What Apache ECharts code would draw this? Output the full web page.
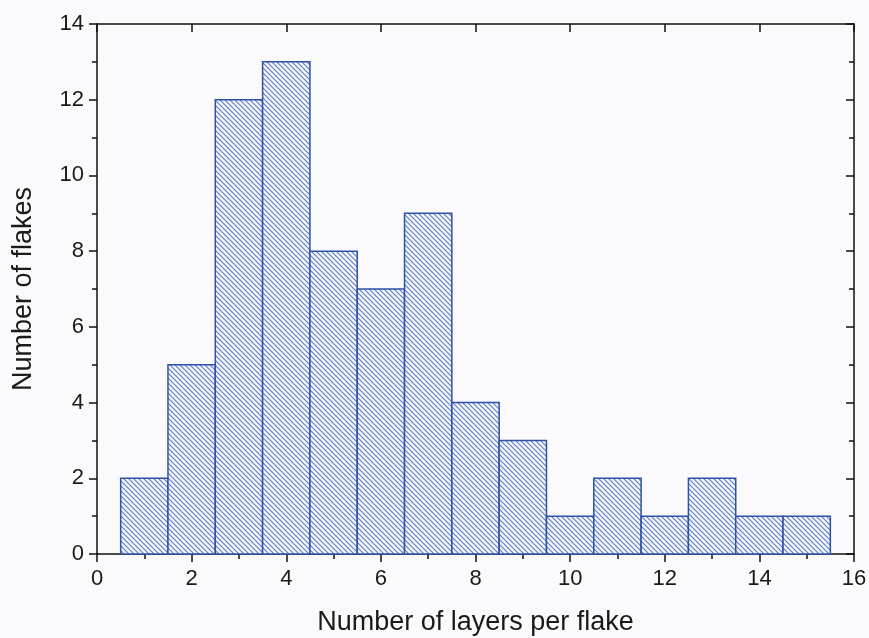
<!DOCTYPE html>
<html><head><meta charset="utf-8">
<script src="https://cdn.jsdelivr.net/npm/echarts@6/dist/echarts.min.js"></script>
<style>html,body{margin:0;padding:0;background:#fafafc}#c{width:869px;height:638px}</style>
</head><body><div id="c"></div>
<script>
const layers = [1,2,3,4,5,6,7,8,9,10,11,12,13,14,15];
const counts = [2,5,12,13,8,7,9,4,3,1,2,1,2,1,1];
const xTicks = [0,2,4,6,8,10,12,14,16];
const yTicks = [0,2,4,6,8,10,12,14];

function hatch(){
  const s = 5, cv = document.createElement('canvas');
  cv.width = s; cv.height = s;
  const g = cv.getContext('2d');
  g.fillStyle = '#f4f6fd'; g.fillRect(0,0,s,s);
  g.strokeStyle = '#5f7bc4'; g.lineWidth = 1.1;
  g.beginPath();
  g.moveTo(-1,-1); g.lineTo(s+1,s+1);
  g.moveTo(-1,s-1); g.lineTo(1,s+1);
  g.moveTo(s-1,-1); g.lineTo(s+1,1);
  g.stroke();
  return cv;
}
const pat = hatch();
const font = '"Liberation Sans", Arial, sans-serif';
const axisLine = {show:true, onZero:false, lineStyle:{color:'#111', width:1.5}};
const chart = echarts.init(document.getElementById('c'), null, {renderer:'canvas'});
chart.setOption({
  backgroundColor:'#fafafc',
  animation:false,
  grid:{left:97, right:15, top:24, bottom:84, containLabel:false, outerBoundsMode:'none'},
  xAxis:[{
    type:'value', min:0, max:16, interval:2,
    axisLine, axisTick:{show:true, length:8, lineStyle:{color:'#111',width:1.5}},
    minorTick:{show:true, splitNumber:2, length:5, lineStyle:{color:'#111',width:1.5}},
    splitLine:{show:false},
    axisLabel:{color:'#1a1a1a', fontSize:22, fontFamily:font, margin:14},
    name:'Number of layers per flake', nameLocation:'middle', nameGap:55,
    nameTextStyle:{color:'#1a1a1a', fontSize:27, fontFamily:font}
  },{
    type:'value', min:0, max:16, interval:2, position:'top',
    axisLine, axisTick:{show:true, inside:true, length:8, lineStyle:{color:'#111',width:1.5}},
    minorTick:{show:false}, splitLine:{show:false}, axisLabel:{show:false}
  }],
  yAxis:[{
    type:'value', min:0, max:14, interval:2,
    axisLine, axisTick:{show:true, length:8, lineStyle:{color:'#111',width:1.5}},
    minorTick:{show:true, splitNumber:2, length:5, lineStyle:{color:'#111',width:1.5}},
    splitLine:{show:false},
    axisLabel:{color:'#1a1a1a', fontSize:22, fontFamily:font, margin:13},
    name:'Number of flakes', nameLocation:'middle', nameGap:60,
    nameTextStyle:{color:'#1a1a1a', fontSize:27, fontFamily:font}
  },{
    type:'value', min:0, max:14, interval:2, position:'right',
    axisLine, axisTick:{show:true, inside:true, length:8, lineStyle:{color:'#111',width:1.5}},
    minorTick:{show:true, splitNumber:2, length:5, lineStyle:{color:'#111',width:1.5}},
    splitLine:{show:false}, axisLabel:{show:false}
  }],
  series:[{
    type:'custom',
    xAxisIndex:0, yAxisIndex:0,
    data: layers.map((x,i)=>[x, counts[i]]),
    renderItem:function(params, api){
      const x = api.value(0), y = api.value(1);
      const p0 = api.coord([x-0.5, y]);
      const p1 = api.coord([x+0.5, 0]);
      return {type:'rect', shape:{x:p0[0], y:p0[1], width:p1[0]-p0[0], height:p1[1]-p0[1]},
        style:{fill:{image:pat, repeat:'repeat'}, stroke:'#2d52a6', lineWidth:1.5}};
    }
  }]
});
</script></body></html>
